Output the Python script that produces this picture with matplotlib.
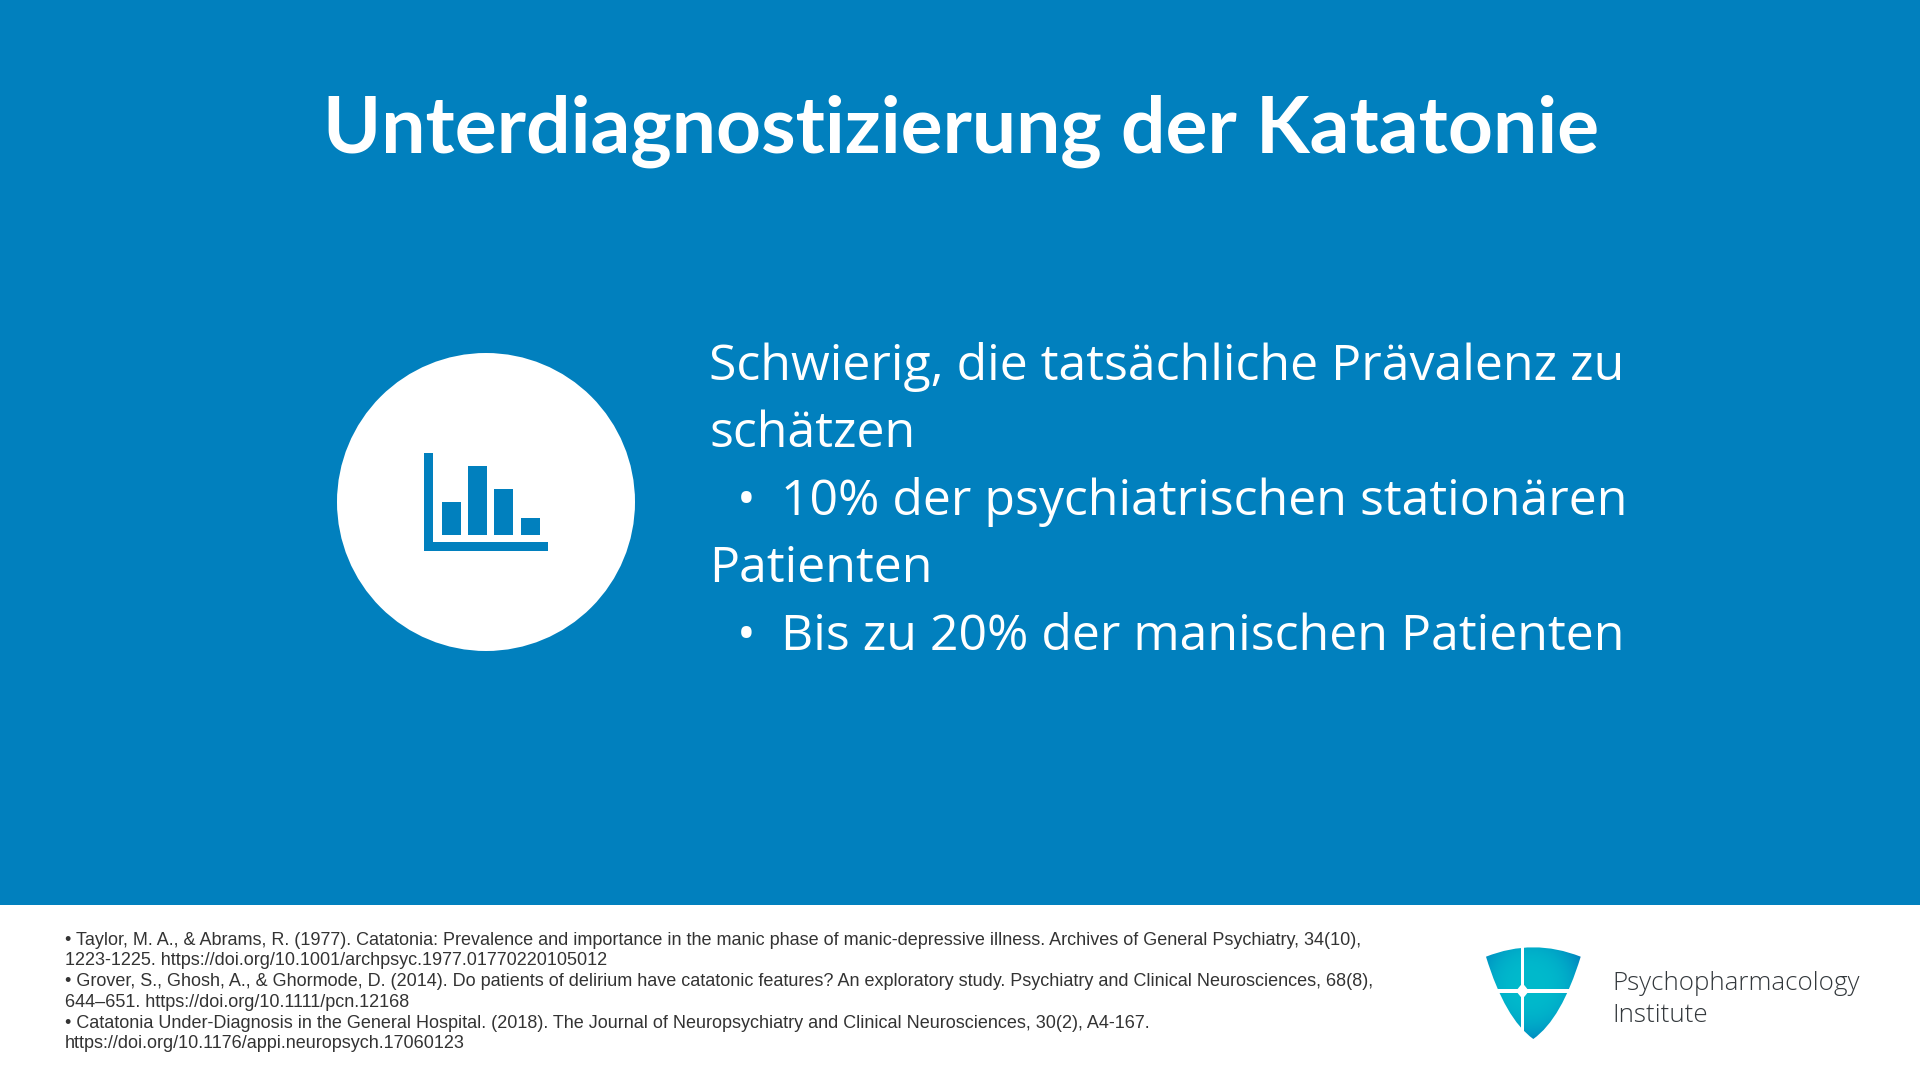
import numpy as np
import matplotlib
matplotlib.use("Agg")
import matplotlib.pyplot as plt
from matplotlib.patches import Circle, PathPatch, Rectangle
from matplotlib.path import Path

# colours
BLUE = "#0180BE"
TEXT_REF = "#333333"
TEXT_LOGO = "#33383c"

# slide text
title = "Unterdiagnostizierung der Katatonie"
body_lines = ["Schwierig, die tatsächliche Prävalenz zu", "schätzen",
              "10% der psychiatrischen stationären", "Patienten",
              "Bis zu 20% der manischen Patienten"]
body_bullets = [False, False, True, False, True]
refs = [
    "• Taylor, M. A., & Abrams, R. (1977). Catatonia: Prevalence and importance in the manic phase of manic-depressive illness. Archives of General Psychiatry, 34(10),",
    "1223-1225. https://doi.org/10.1001/archpsyc.1977.01770220105012",
    "• Grover, S., Ghosh, A., & Ghormode, D. (2014). Do patients of delirium have catatonic features? An exploratory study. Psychiatry and Clinical Neurosciences, 68(8),",
    "644–651. https://doi.org/10.1111/pcn.12168",
    "• Catatonia Under-Diagnosis in the General Hospital. (2018). The Journal of Neuropsychiatry and Clinical Neurosciences, 30(2), A4-167.",
    "https://doi.org/10.1176/appi.neuropsych.17060123",
]
logo_lines = ["Psychopharmacology", "Institute"]

# icon bars, heights as drawn in the picture
icon_bar_left = [441.7, 468.0, 494.3, 520.7]
icon_bar_height = [33.0, 69.3, 45.7, 16.7]

fig = plt.figure(figsize=(19.2, 10.8), dpi=100, facecolor="white")
ax = fig.add_axes([0, 0, 1, 1])
ax.axis("off")

# background band
ax.add_patch(Rectangle((0, 0), 1920, 905, color=BLUE, lw=0))

ax.text(961, 153, title, color="white", fontsize=56.5, fontweight="bold",
        family="Lato", ha="center", va="baseline")

# round icon with the small bar chart
ax.add_patch(Circle((486, 502), 149, color="white", lw=0))
ax.add_patch(Rectangle((424, 452.7), 9.3, 98.6, color=BLUE, lw=0))
ax.add_patch(Rectangle((424, 541.7), 124, 9.6, color=BLUE, lw=0))
ax.bar(icon_bar_left, [-h for h in icon_bar_height], width=19, bottom=535,
       align="edge", color=BLUE, linewidth=0)

# body text
y = 380
for line, bullet in zip(body_lines, body_bullets):
    if bullet:
        ax.text(737, y, "•", color="white", fontsize=36, family="Open Sans", va="baseline")
        ax.text(781, y, line, color="white", fontsize=36, family="Open Sans", va="baseline")
    else:
        ax.text(709, y, line, color="white", fontsize=36, family="Open Sans", va="baseline")
    y += 67.4

# references
y = 944.6
for line in refs:
    ax.text(65, y, line, color=TEXT_REF, fontsize=12.97, family="Liberation Sans", va="baseline")
    y += 20.75

# logo shield
verts = [(1486, 956.7), (1533.3, 937.9), (1580.7, 956.7),
         (1561.7, 1018.8), (1533.3, 1039),
         (1505, 1018.8), (1486, 956.7), (1486, 956.7)]
codes = [Path.MOVETO, Path.CURVE3, Path.CURVE3, Path.CURVE3, Path.CURVE3,
         Path.CURVE3, Path.CURVE3, Path.CLOSEPOLY]
shield = PathPatch(Path(verts, codes), transform=ax.transData, facecolor="none", lw=0)
ax.add_patch(shield)
gx, gy = np.meshgrid(np.linspace(1480, 1585, 210), np.linspace(940, 1042, 204))
dist = np.clip(np.hypot(gx - 1530, gy - 985) / 58, 0, 1) ** 3
teal = np.array([0, 186, 204]) / 255
deep = np.array([0, 130, 190]) / 255
grad = teal + (deep - teal) * dist[..., None]
img = ax.imshow(grad, extent=(1480, 1585, 1042, 940), aspect="auto", interpolation="bilinear")
img.set_clip_path(shield)
ax.add_patch(Rectangle((1520.7, 940), 3.7, 102, color="white", lw=0))
ax.add_patch(Rectangle((1480, 989.3), 105, 3.7, color="white", lw=0))
ax.add_patch(plt.Polygon([(1522.5, 983), (1529, 991), (1522.5, 999), (1516, 991)], color="white", lw=0))

y = 990
for line in logo_lines:
    ax.text(1612, y, line, color=TEXT_LOGO, fontsize=18.7, family="Open Sans", va="baseline",
            fontweight="light")
    y += 32

ax.set_xlim(0, 1920)
ax.set_ylim(1080, 0)

fig.savefig("out.png", dpi=100, facecolor="white")
